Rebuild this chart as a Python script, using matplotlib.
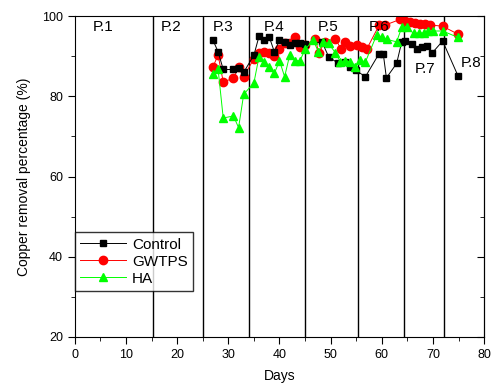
import numpy as np
import matplotlib
matplotlib.use("Agg")
import matplotlib.pyplot as plt
from matplotlib.ticker import MultipleLocator

plt.rcParams["font.family"] = ["Liberation Sans", "DejaVu Sans"]

# phase boundaries (days) and labels
boundaries = [15.3, 25.1, 34.0, 45.0, 55.3, 64.3, 72.2]
phase_labels = ["P.1", "P.2", "P.3", "P.4", "P.5", "P.6", "P.7", "P.8"]
label_x = [5.5, 18.8, 29.0, 39.0, 49.5, 59.5, 68.5, 77.5]
label_y = [97.4, 97.4, 97.4, 97.4, 97.4, 97.4, 86.8, 88.4]

# Control
ctrl_days = [27, 28, 29, 31, 32, 33,
             35, 36, 37, 38, 39, 40, 41, 42, 43, 44, 45,
             48.3, 49.6, 51.5, 52.8, 53.8, 54.9, 56.8,
             59.4, 60.3, 60.9, 62.9, 63.9,
             64.6, 65.9, 66.9, 67.8, 68.8, 69.9, 71.9,
             74.9]
ctrl_vals = [94.0, 91.1, 86.7, 86.7, 87.0, 86.0,
             90.3, 95.0, 94.0, 94.8, 91.1, 94.0, 93.6, 92.8, 93.3, 93.2, 93.0,
             93.6, 89.9, 88.2, 88.6, 87.4, 86.5, 84.9,
             90.5, 90.5, 84.6, 88.2, 93.6,
             93.8, 93.0, 91.8, 92.2, 92.6, 90.9, 93.8,
             85.1]

# GWTPS
gw_days = [27, 28, 29, 31, 32, 33,
           35, 36, 37, 38, 39, 40, 41, 42, 43, 44, 45,
           47, 47.7, 48.8, 50.9, 52, 52.8, 53.8, 55.1, 56.1, 57.1,
           59.5, 60.7, 63.6, 64.6, 65.6, 66.5, 67.5, 68.5, 69.5, 71.9, 74.9]
gw_vals = [87.4, 90.3, 83.6, 84.5, 87.2, 84.9,
           89.4, 90.7, 91.1, 90.7, 90.0, 91.9, 93.2, 93.2, 94.7, 92.3, 92.8,
           94.4, 90.7, 93.6, 94.4, 91.9, 93.6, 92.5, 92.8, 92.4, 91.9,
           97.8, 97.8, 99.2, 98.8, 98.6, 98.3, 98.1, 98.0, 97.8, 97.5, 95.5]

# HA
ha_days = [27, 28, 29, 31, 32, 33,
           35, 36, 37, 38, 39, 40, 41, 42, 43, 44, 45,
           46.6, 47.6, 48.6, 49.6, 50.9, 51.9, 52.8, 53.8, 54.8, 55.8, 56.8,
           59.0, 60.0, 61.0, 62.9, 63.9,
           64.9, 66.2, 67.2, 68.2, 69.1, 70.1, 71.9, 74.9]
ha_vals = [85.5, 86.7, 74.6, 75.1, 72.2, 80.5,
           83.4, 89.9, 88.6, 87.2, 85.7, 88.9, 84.9, 90.3, 88.9, 88.9, 91.7,
           94.0, 91.1, 93.6, 93.2, 90.9, 88.6, 88.9, 88.6, 87.4, 89.0, 88.6,
           95.3, 94.8, 94.2, 93.6, 97.2,
           97.3, 95.7, 95.8, 95.8, 96.3, 96.3, 96.3, 94.7]

fig = plt.figure(figsize=(4.96, 3.85), dpi=100)
ax = fig.add_axes([0.151, 0.125, 0.825, 0.833])

for b in boundaries:
    ax.axvline(b, color="black", lw=1.0, zorder=1)

ax.plot(ctrl_days, ctrl_vals, color="black", lw=0.7, marker="s", ms=4.5,
        label="Control", zorder=3)
ax.plot(gw_days, gw_vals, color="red", lw=0.7, marker="o", ms=6,
        label="GWTPS", zorder=2)
ax.plot(ha_days, ha_vals, color="#00ff00", lw=0.7, marker="^", ms=6,
        label="HA", zorder=4)

for t, x, y in zip(phase_labels, label_x, label_y):
    ax.text(x, y, t, ha="center", va="center", fontsize=11, zorder=5)

ax.set_xlim(0, 80)
ax.set_ylim(20, 100)
ax.xaxis.set_major_locator(MultipleLocator(10))
ax.xaxis.set_minor_locator(MultipleLocator(5))
ax.yaxis.set_major_locator(MultipleLocator(20))
ax.yaxis.set_minor_locator(MultipleLocator(10))
ax.tick_params(which="major", direction="out", length=5, labelsize=9)
ax.tick_params(which="minor", direction="out", length=3)

sec = ax.secondary_yaxis("right")
sec.yaxis.set_major_locator(MultipleLocator(20))
sec.yaxis.set_minor_locator(MultipleLocator(10))
sec.tick_params(which="major", direction="in", length=5, labelright=False)
sec.tick_params(which="minor", direction="in", length=3)

ax.set_xlabel("Days", fontsize=10, labelpad=6)
ax.set_ylabel("Copper removal percentage (%)", fontsize=10, labelpad=8)

leg = ax.legend(loc="lower left", bbox_to_anchor=(0.0, 0.143), fontsize=11,
                frameon=True, fancybox=False, edgecolor="black",
                borderaxespad=0, handlelength=3.0, borderpad=0.35,
                labelspacing=0.2, handletextpad=0.4)
leg.get_frame().set_linewidth(1.0)

fig.savefig("out.png", dpi=100)
